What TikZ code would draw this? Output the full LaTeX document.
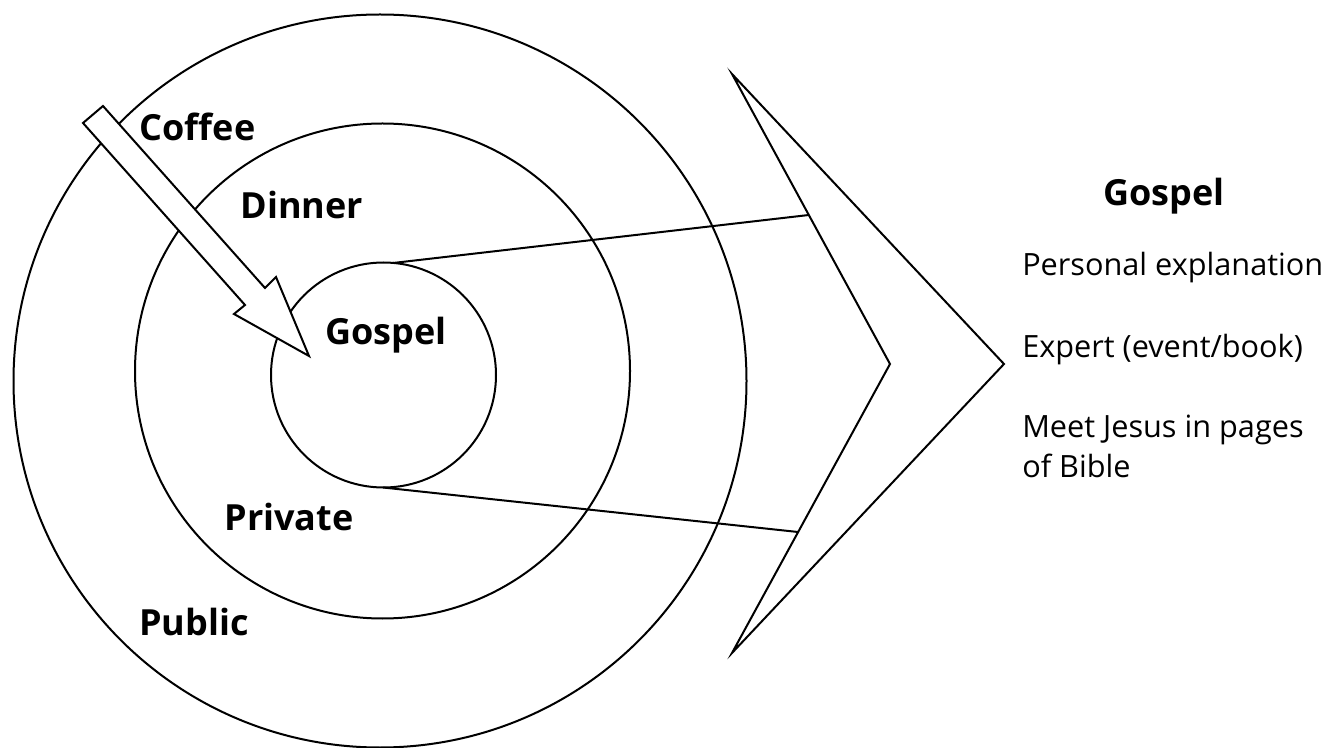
\documentclass[tikz,border=0pt]{standalone}
\usepackage{fontspec}
\setmainfont{Open Sans}
\begin{document}
\begin{tikzpicture}[x=0.75pt,y=-0.75pt,
  ln/.style={line width=1.5pt, line join=miter},
  ring/.style={ln, draw, circle, inner sep=0pt},
  lab/.style={font=\fontsize{27}{32}\selectfont\bfseries, anchor=base, inner sep=0pt},
  item/.style={font=\fontsize{23}{30}\selectfont, anchor=base west, inner sep=0pt, align=left}]
\useasboundingbox (0,0) rectangle (1325,748);
% rings
\node[ring, minimum size=549.75pt] (outer) at (380,381) {};
\node[ring, minimum size=371.25pt] (middle) at (382.5,371) {};
\node[ring, minimum size=168.75pt] (inner) at (383.5,375) {};
% chevron
\coordinate (ct) at (732,74);
\coordinate (cv) at (890,364);
\coordinate (cb) at (732,653);
\coordinate (cp) at (1004,364);
\draw[ln] (ct) -- (cp) -- (cb) -- (cv) -- cycle;
% connectors
\coordinate (it) at (393,263);
\coordinate (ib) at (383,487.5);
\coordinate (et) at (808.8,215);
\coordinate (eb) at (798,532);
\draw[ln] (it) -- (et);
\draw[ln] (ib) -- (eb);
% big arrow
\draw[ln, fill=white] (83,123) -- (103,106) -- (265,288) -- (276,277) -- (309,356)
  -- (234,314) -- (245,305) -- cycle;
% labels
\node[lab] (coffee) at (197.5,141) {Coffee};
\node[lab] (dinner) at (302,219) {Dinner};
\node[lab] (gospelc) at (386,345) {Gospel};
\node[lab] (private) at (289,531) {Private};
\node[lab] (public) at (194,635) {Public};
\node[lab] (gospelr) at (1164,206) {Gospel};
\node[item] (i1) at (1022,276) {Personal explanation};
\node[item] (i2) at (1022,358) {Expert (event/book)};
\node[item] (i3) at (1022,478) {Meet Jesus in pages\\of Bible};
\end{tikzpicture}
\end{document}
